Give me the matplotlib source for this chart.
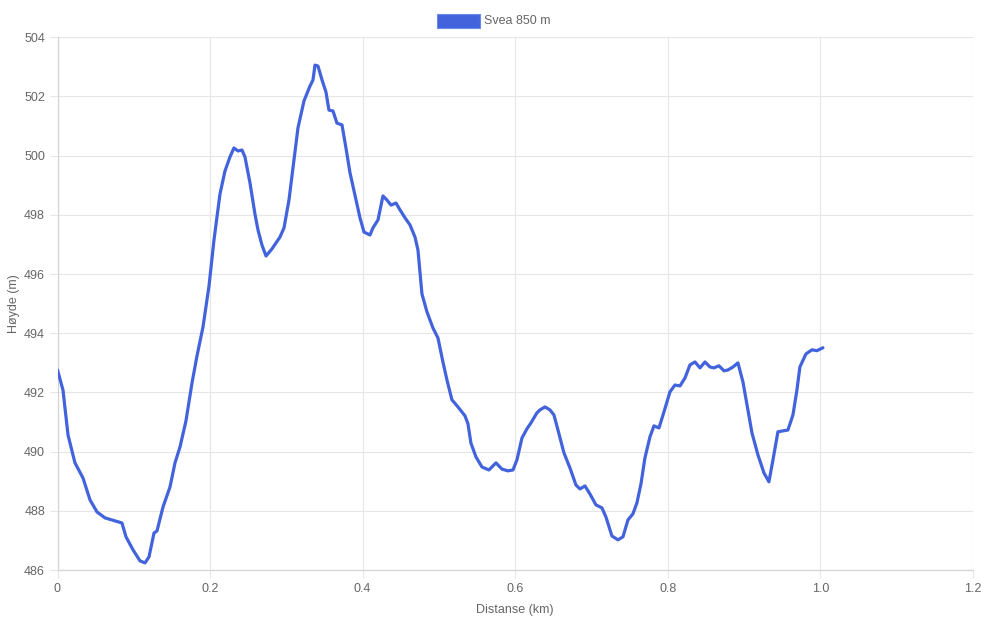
import matplotlib.pyplot as plt
from matplotlib.patches import Rectangle

# elevation profile
distance_km = [
    0.0, 0.0072, 0.0138, 0.0229, 0.0334, 0.0426, 0.0518, 0.0623, 0.0845, 0.0898,
    0.0990, 0.1081, 0.1147, 0.1199, 0.1265, 0.1304, 0.1383, 0.1475, 0.1540, 0.1606,
    0.1684, 0.1763, 0.1828, 0.1907, 0.1986, 0.2051, 0.2130, 0.2195, 0.2261, 0.2313,
    0.2366, 0.2418, 0.2457, 0.2523, 0.2588, 0.2628, 0.2680, 0.2733, 0.2811, 0.2916,
    0.2969, 0.3034, 0.3100, 0.3152, 0.3231, 0.3309, 0.3349, 0.3375, 0.3414, 0.3467,
    0.3519, 0.3558, 0.3611, 0.3663, 0.3729, 0.3781, 0.3834, 0.3899, 0.3965, 0.4017,
    0.4096, 0.4135, 0.4201, 0.4266, 0.4319, 0.4371, 0.4437, 0.4489, 0.4555, 0.4620,
    0.4686, 0.4725, 0.4777, 0.4843, 0.4921, 0.4987, 0.5052, 0.5105, 0.5170, 0.5249,
    0.5341, 0.5380, 0.5419, 0.5485, 0.5564, 0.5655, 0.5747, 0.5826, 0.5904, 0.5970,
    0.6022, 0.6088, 0.6153, 0.6206, 0.6284, 0.6324, 0.6389, 0.6455, 0.6507, 0.6560,
    0.6638, 0.6717, 0.6796, 0.6848, 0.6914, 0.6979, 0.7058, 0.7136, 0.7189, 0.7267,
    0.7346, 0.7412, 0.7477, 0.7543, 0.7595, 0.7648, 0.7700, 0.7766, 0.7818, 0.7884,
    0.7949, 0.8028, 0.8093, 0.8159, 0.8225, 0.8290, 0.8356, 0.8421, 0.8487, 0.8552,
    0.8605, 0.8670, 0.8736, 0.8788, 0.8854, 0.8919, 0.8985, 0.9050, 0.9103, 0.9181,
    0.9260, 0.9325, 0.9378, 0.9443, 0.9509, 0.9574, 0.9640, 0.9692, 0.9731, 0.9810,
    0.9889, 0.9954, 1.0033,
]
elevation_m = [
    492.76, 492.08, 490.56, 489.62, 489.11, 488.37, 487.96, 487.76, 487.59, 487.12,
    486.68, 486.31, 486.24, 486.44, 487.25, 487.32, 488.13, 488.81, 489.62, 490.16,
    491.04, 492.32, 493.23, 494.21, 495.60, 497.15, 498.71, 499.48, 499.96, 500.26,
    500.16, 500.19, 499.96, 499.08, 498.03, 497.49, 496.98, 496.61, 496.85, 497.25,
    497.56, 498.50, 499.85, 500.94, 501.85, 502.35, 502.56, 503.06, 503.03, 502.56,
    502.15, 501.54, 501.51, 501.10, 501.04, 500.26, 499.42, 498.67, 497.90, 497.42,
    497.32, 497.56, 497.83, 498.64, 498.50, 498.33, 498.40, 498.17, 497.90, 497.66,
    497.25, 496.81, 495.33, 494.72, 494.18, 493.84, 493.03, 492.42, 491.75, 491.51,
    491.21, 490.94, 490.29, 489.82, 489.48, 489.38, 489.62, 489.41, 489.35, 489.38,
    489.72, 490.46, 490.77, 490.97, 491.31, 491.41, 491.51, 491.41, 491.24, 490.73,
    489.96, 489.45, 488.87, 488.74, 488.84, 488.57, 488.20, 488.10, 487.79, 487.15,
    487.02, 487.12, 487.69, 487.90, 488.27, 488.91, 489.79, 490.50, 490.87, 490.80,
    491.34, 492.02, 492.25, 492.22, 492.49, 492.93, 493.03, 492.83, 493.03, 492.86,
    492.83, 492.90, 492.73, 492.76, 492.86, 493.00, 492.35, 491.41, 490.63, 489.89,
    489.28, 488.98, 489.72, 490.67, 490.70, 490.73, 491.24, 492.08, 492.86, 493.30,
    493.44, 493.41, 493.51,
]
x_ticks = [0, 0.2, 0.4, 0.6, 0.8, 1.0, 1.2]
x_tick_labels = ["0", "0.2", "0.4", "0.6", "0.8", "1.0", "1.2"]
y_ticks = [486, 488, 490, 492, 494, 496, 498, 500, 502, 504]
series_name = "Svea 850 m"

plt.rcParams['font.family'] = ['Liberation Sans', 'DejaVu Sans']
line_color = "#4263dc"
grid_color = "#e6e6e6"
text_color = "#666666"

fig = plt.figure(figsize=(9.86, 6.19), dpi=100)
ax = fig.add_axes([57.5 / 986, 1 - 570 / 619, (973 - 57.5) / 986, (570 - 37.3) / 619])

ax.plot(distance_km, elevation_m, color=line_color, lw=2.3,
        solid_joinstyle="round", solid_capstyle="round", zorder=3)

ax.set_xlim(0, 1.2)
ax.set_ylim(486, 504)
ax.set_xticks(x_ticks)
ax.set_xticklabels(x_tick_labels)
ax.set_yticks(y_ticks)
ax.grid(True, color=grid_color, lw=0.8)
ax.set_axisbelow(True)
for side in ["top", "right"]:
    ax.spines[side].set_visible(False)
for side in ["left", "bottom"]:
    ax.spines[side].set_color("#d4d4d4")
    ax.spines[side].set_linewidth(0.9)
ax.tick_params(axis="both", length=6, width=0.8, color=grid_color,
               labelcolor=text_color, labelsize=9, pad=3)

ax.set_xlabel("Distanse (km)", color=text_color, fontsize=9, labelpad=7)
ax.set_ylabel("Høyde (m)", color=text_color, fontsize=9, labelpad=3)

# legend box like the chart's header
fig.add_artist(Rectangle((437 / 986, 1 - 28 / 619), 43 / 986, 14 / 619,
                         transform=fig.transFigure, facecolor=line_color,
                         edgecolor="#6d88e6", lw=0.8))
fig.text(484 / 986, 1 - 20.5 / 619, series_name, color=text_color,
         fontsize=9, va="center", ha="left")

fig.savefig("out.png", dpi=100)
